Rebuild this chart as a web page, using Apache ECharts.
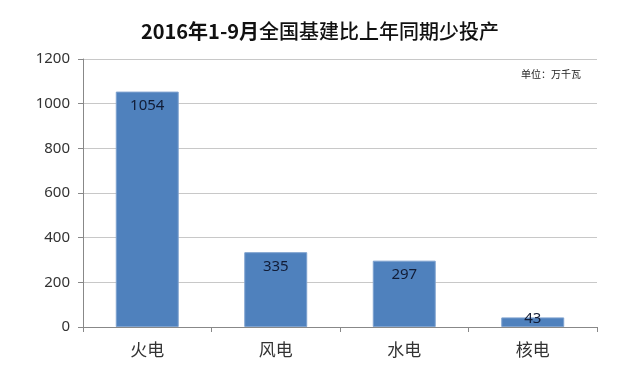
<!DOCTYPE html>
<html>
<head>
<meta charset="utf-8">
<script src="https://cdn.jsdelivr.net/npm/echarts@6/dist/echarts.min.js"></script>
<style>html,body{margin:0;padding:0;background:#fff;}#c{width:640px;height:381px;}</style>
</head>
<body>
<div id="c"></div>
<script>
var categories = ['火电', '风电', '水电', '核电'];
var values = [1054, 335, 297, 43];
var yTicks = [0, 200, 400, 600, 800, 1000, 1200];
var titleBold = '2016年1-9月';
var titleRest = '全国基建比上年同期少投产';
var unitText = '单位：万千瓦';

var chart = echarts.init(document.getElementById('c'));
var data = values.map(function (v) {
  var item = { value: v };
  if (v < 100) {
    item.label = { position: 'insideBottom', distance: 1 };
  }
  return item;
});
chart.setOption({
  animation: false,
  title: {
    text: '{b|' + titleBold + '}{r|' + titleRest + '}',
    left: 'center',
    top: 16,
    textStyle: {
      rich: {
        b: { fontFamily: 'Noto Sans CJK SC', fontSize: 20, fontWeight: 'bold', color: '#111' },
        r: { fontFamily: 'Noto Sans CJK SC', fontSize: 20, fontWeight: 500, color: '#111' }
      }
    }
  },
  graphic: [{
    type: 'text',
    left: 521,
    top: 69,
    style: { text: unitText, font: '10px "Noto Sans CJK SC"', fill: '#222' }
  }],
  grid: { left: 83, right: 43, top: 59, bottom: 54 },
  xAxis: {
    type: 'category',
    data: categories,
    axisLine: { lineStyle: { color: '#888' } },
    axisTick: { show: true, length: 5, lineStyle: { color: '#888' } },
    axisLabel: { fontFamily: 'Noto Sans CJK SC', fontSize: 17, color: '#333', margin: 14 }
  },
  yAxis: {
    type: 'value',
    min: yTicks[0],
    max: yTicks[yTicks.length - 1],
    interval: 200,
    axisLine: { show: true, lineStyle: { color: '#888' } },
    axisTick: { show: true, length: 5, lineStyle: { color: '#888' } },
    splitLine: { lineStyle: { color: '#c8c8c8' } },
    axisLabel: {
      fontFamily: 'Noto Sans', fontSize: 15, color: '#333', margin: 13,
      formatter: function (v) { return String(v); }
    }
  },
  series: [{
    type: 'bar',
    data: data,
    barWidth: '49%',
    itemStyle: { color: '#4f81bd', borderColor: '#7ea2cf', borderWidth: 1 },
    label: {
      show: true,
      position: 'insideTop',
      distance: 7,
      fontFamily: 'Noto Sans',
      fontSize: 15,
      color: '#111c36'
    }
  }]
});
</script>
</body>
</html>
